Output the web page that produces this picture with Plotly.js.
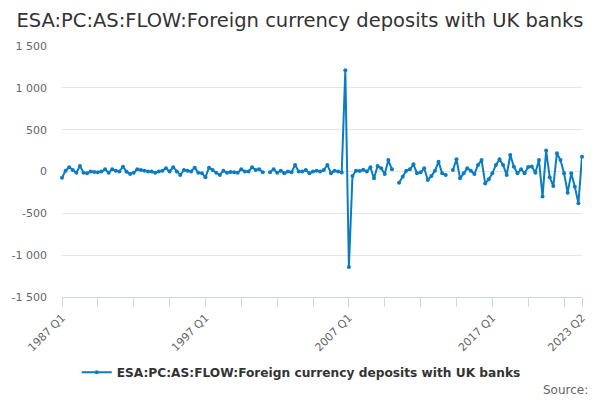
<!DOCTYPE html>
<html>
<head>
<meta charset="utf-8">
<script src="https://cdn.plot.ly/plotly-3.0.1.min.js"></script>
<style>
  html, body { margin: 0; padding: 0; background: #fff; }
  #chart { width: 600px; height: 400px; }
</style>
</head>
<body>
<div id="chart"></div>
<script>
// quarters 1987 Q1 .. 2023 Q2
var quarters = [];
for (var yr = 1987; yr <= 2023; yr++) {
  for (var q = 1; q <= 4; q++) {
    if (yr === 2023 && q > 2) break;
    quarters.push(yr + ' Q' + q);
  }
}

var seriesName = 'ESA:PC:AS:FLOW:Foreign currency deposits with UK banks';

// flow values (null = no data)
var flows = [
  -74, 10, 50, 18, -14, 66, -14, -20, 0, -5,
  -8, 0, 26, -14, 26, 10, 0, 58, -2, -30,
  -14, 26, 18, 10, 0, 0, -14, 0, 10, 38,
  0, 50, 0, -42, 18, 10, 0, 46, -14, -20,
  -70, 46, 18, -14, -42, 10, -14, -5, -8, -14,
  26, 0, 0, 50, 18, 26, -8, null, -8, 26,
  -14, 10, -20, 0, -8, 78, 0, 0, 18, -20,
  0, 10, 0, 18, 78, -20, 10, 0, -12, 1210,
  -1140, -54, 10, 5, 20, 0, 50, -82, 66, 38,
  -30, 137, 26, null, -134, -62, 10, 26, 86, -22,
  -10, 38, -102, -54, 10, 118, -22, -42, null, 18,
  146, -82, -22, 38, 10, -30, 78, 137, -142, -94,
  -22, 78, 146, 78, -42, 197, 58, -22, 26, -20,
  55, 60, -15, 137, -300, 250, -70, -173, 218, 137,
  -22, -253, -22, -181, -380, 177
];

var labelledTicks = ['1987 Q1', '1997 Q1', '2007 Q1', '2017 Q1', '2023 Q2'];
var yTicks = [-1500, -1000, -500, 0, 500, 1000, 1500];
var yTickText = ['-1 500', '-1 000', '-500', '0', '500', '1 000', '1 500'];

// tick marks every 10 quarters, labels only on some
var tickVals = [];
var tickText = [];
for (var i = 0; i < quarters.length; i += 10) {
  tickVals.push(quarters[i]);
  tickText.push(labelledTicks.indexOf(quarters[i]) >= 0 ? quarters[i] : '');
}
tickVals.push(quarters[quarters.length - 1]);
tickText.push(quarters[quarters.length - 1]);

var trace1 = {
  x: quarters,
  y: flows,
  name: seriesName,
  type: 'scatter',
  mode: 'lines+markers',
  connectgaps: false,
  cliponaxis: false,
  line: { color: '#0a7cc2', width: 2 },
  marker: { color: '#0a7cc2', size: 4 }
};

var layout = {
  width: 600,
  height: 400,
  margin: { l: 62, r: 18, t: 46, b: 103 },
  paper_bgcolor: '#fff',
  plot_bgcolor: '#fff',
  font: { family: 'DejaVu Sans', size: 11, color: '#666' },
  title: {
    text: seriesName,
    x: 0.5,
    xanchor: 'center',
    y: 0.95,
    yanchor: 'middle',
    font: { family: 'DejaVu Sans', size: 19.5, color: '#333' }
  },
  showlegend: true,
  legend: {
    orientation: 'h',
    x: 0.46,
    xanchor: 'center',
    y: -0.30,
    yanchor: 'middle',
    font: { family: 'DejaVu Sans', size: 12.2, color: '#333', weight: 'bold' }
  },
  xaxis: {
    type: 'category',
    range: [0, quarters.length - 1],
    tickmode: 'array',
    tickvals: tickVals,
    ticktext: tickText,
    tickangle: -45,
    ticks: 'outside',
    ticklen: 9,
    tickcolor: '#ccd6eb',
    showline: true,
    linecolor: '#ccd6eb',
    showgrid: false,
    zeroline: false,
    tickfont: { family: 'DejaVu Sans', size: 11, color: '#666' }
  },
  yaxis: {
    range: [-1500, 1500],
    tickmode: 'array',
    tickvals: yTicks,
    ticktext: yTickText,
    showgrid: true,
    gridcolor: '#e6e6e6',
    zeroline: false,
    showline: false,
    ticks: '',
    ticklabelstandoff: 14,
    tickfont: { family: 'DejaVu Sans', size: 11, color: '#666' }
  },
  annotations: [{
    text: 'Source:',
    xref: 'paper',
    yref: 'paper',
    x: 1.015,
    xanchor: 'right',
    y: -0.37,
    yanchor: 'middle',
    showarrow: false,
    font: { family: 'DejaVu Sans', size: 12, color: '#666' }
  }]
};

Plotly.newPlot('chart', [trace1], layout, { displayModeBar: false, staticPlot: true });
</script>
</body>
</html>
